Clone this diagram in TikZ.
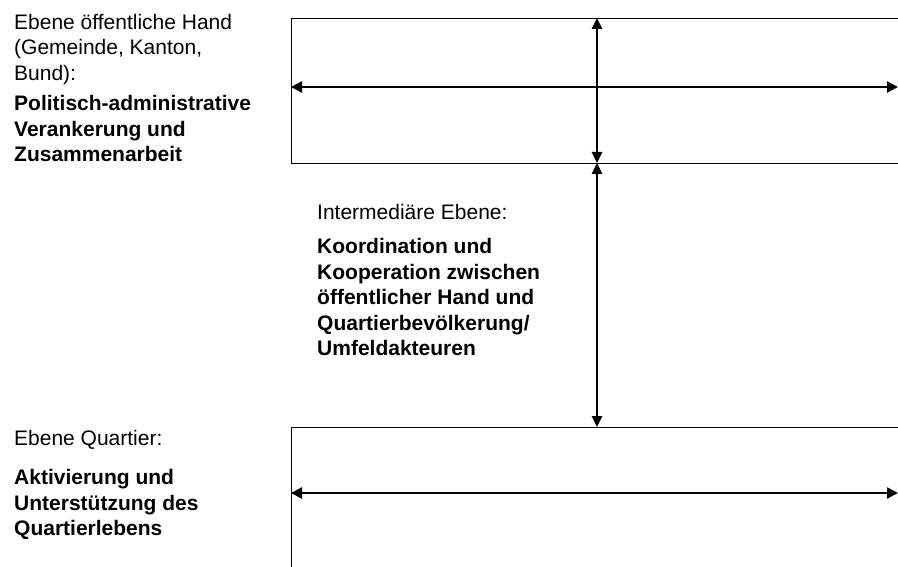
\documentclass[tikz,border=0pt]{standalone}
\usepackage{fontspec}
\setmainfont{Liberation Sans}
\usetikzlibrary{arrows.meta, positioning}

\begin{document}
\begin{tikzpicture}[x=1pt, y=-1pt,
    rahmen/.style={draw, line width=0.9pt},
    pfeilh/.style={{Triangle[length=11pt, width=11pt]}-{Triangle[length=11pt, width=11pt]}, line width=2.4pt},
    pfeilv/.style={{Triangle[length=11pt, width=10.5pt]}-{Triangle[length=11pt, width=10.5pt]}, line width=1.6pt},
    ebene/.style={anchor=north west, inner sep=0pt, align=left, font=\fontsize{21}{25.5}\selectfont},
    aufgabe/.style={ebene, font=\fontsize{21}{25.5}\selectfont\bfseries},
  ]
  \useasboundingbox (0,0) rectangle (898,567);
  \clip (0,0) rectangle (898,567);

  % Rahmen der beiden Ebenen
  \draw[rahmen] (291,18) rectangle (920,163);
  \draw[rahmen] (291,427) rectangle (920,600);

  \coordinate (oben-l) at (291,87);
  \coordinate (oben-r) at (898,87);
  \coordinate (quart-l) at (291,493);
  \coordinate (quart-r) at (898,493);
  \coordinate (mitte-o) at (597,18);
  \coordinate (mitte-m) at (597,163);
  \coordinate (mitte-u) at (597,427);

  \draw[pfeilh] (oben-l) -- (oben-r);
  \draw[pfeilh] (quart-l) -- (quart-r);
  \draw[pfeilv] (mitte-o) -- (mitte-m);
  \draw[pfeilv] (mitte-m) -- (mitte-u);

  % Beschriftungen
  \node[ebene] (oeffhand) at (14,11) {\strut Ebene öffentliche Hand\\(Gemeinde, Kanton,\\Bund):\strut};
  \node[aufgabe, below=5pt of oeffhand.south west, anchor=north west] (oeffaufg)
    {\strut Politisch-administrative\\Verankerung und\\Zusammenarbeit};
  \node[ebene] (intermed) at (317,201) {\strut Intermediäre Ebene:\strut};
  \node[aufgabe, below=9pt of intermed.south west, anchor=north west] (intaufg)
    {\strut Koordination und\\Kooperation zwischen\\öffentlicher Hand und\\Quartierbevölkerung/\\Umfeldakteuren};
  \node[ebene] (quartier) at (14,427) {\strut Ebene Quartier:\strut};
  \node[aufgabe, below=14pt of quartier.south west, anchor=north west] (quartaufg)
    {\strut Aktivierung und\\Unterstützung des\\Quartierlebens};
\end{tikzpicture}
\end{document}
